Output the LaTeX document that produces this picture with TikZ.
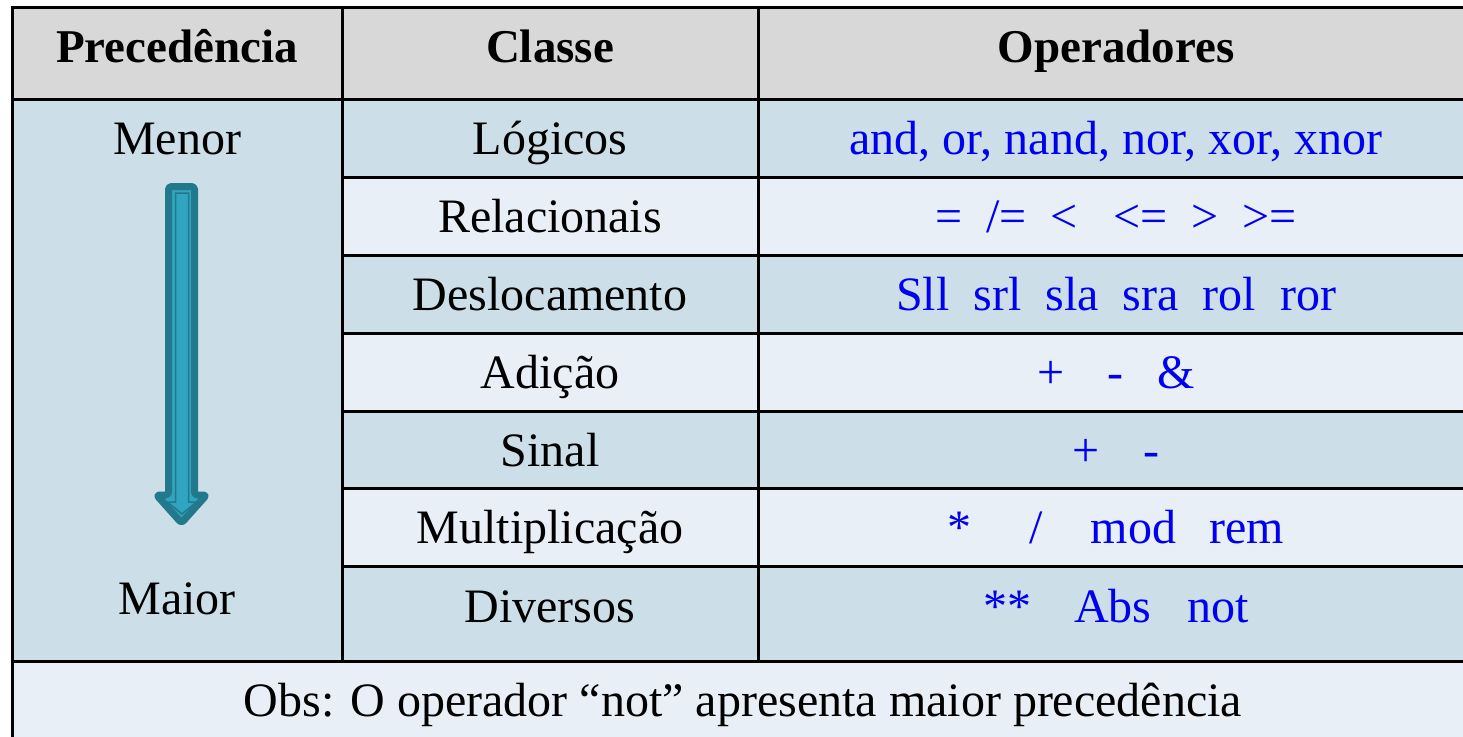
\documentclass[tikz,border=0pt]{standalone}
\usepackage{fontspec}
\setmainfont{Liberation Serif}
\definecolor{hdr}{HTML}{D8D8D8}
\definecolor{rowdark}{HTML}{CCDEE7}
\definecolor{rowlight}{HTML}{E8EFF6}
\definecolor{tealdark}{HTML}{22798B}
\definecolor{teallight}{HTML}{31A4C0}
\definecolor{opblue}{HTML}{0000F0}
\tikzset{
  cell/.style={anchor=base, inner sep=0pt, font=\fontsize{48}{52}\selectfont},
  hcell/.style={cell, font=\fontsize{47}{52}\selectfont\bfseries},
  opcell/.style={cell, text=opblue},
  grid/.style={line width=3pt, black},
}
\begin{document}
\begin{tikzpicture}[x=1pt,y=-1pt]
\useasboundingbox (0,0) rectangle (1463,736);
\clip (0,0) rectangle (1463,736);
\fill[white] (0,0) rectangle (1463,736);
% fills
\fill[hdr] (12,7) rectangle (1480,99);
\fill[rowdark] (12,99) rectangle (342,661);
\fill[rowdark] (342,99) rectangle (1480,177);
\fill[rowlight] (342,177) rectangle (1480,255);
\fill[rowdark] (342,255) rectangle (1480,333);
\fill[rowlight] (342,333) rectangle (1480,411);
\fill[rowdark] (342,411) rectangle (1480,488);
\fill[rowlight] (342,488) rectangle (1480,566);
\fill[rowdark] (342,566) rectangle (1480,661);
\fill[rowlight] (12,661) rectangle (1480,740);
% grid
\draw[grid] (12,7) -- (1480,7);
\draw[grid] (12,99) -- (1480,99);
\foreach \yy in {177,255,333,411,488,566} \draw[grid] (342,\yy) -- (1480,\yy);
\draw[grid] (12,661) -- (1480,661);
\draw[grid] (12,5.5) -- (12,740);
\draw[grid] (342,7) -- (342,661);
\draw[grid] (758,7) -- (758,661);
% arrow
\draw[line width=7pt, draw=tealdark, fill=teallight, rounded corners=3pt, line join=round]
  (168.5,186.5) -- (194.5,186.5) -- (194.5,495) -- (206.5,495) -- (181.5,523) -- (156.5,495) -- (168.5,495) -- cycle;
\draw[line width=1.5pt, draw=tealdark, line join=miter]
  (175.5,193) -- (188.5,193) -- (188.5,502) -- (196.5,502) -- (182,514) -- (167.5,502) -- (175.5,502) -- cycle;
% header
\node[hcell] (h1) at (177,62) {Precedência};
\node[hcell] (h2) at (550,62) {Classe};
\node[hcell] (h3) at (1116,62) {Operadores};
% precedence
\node[cell] (menor) at (177,154) {Menor};
\node[cell] (maior) at (177,614) {Maior};
% classes
\node[cell] (c1) at (550,154) {Lógicos};
\node[cell] (c2) at (550,232) {Relacionais};
\node[cell] (c3) at (550,310) {Deslocamento};
\node[cell] (c4) at (550,388) {Adição};
\node[cell] (c5) at (550,466) {Sinal};
\node[cell] (c6) at (550,543) {Multiplicação};
\node[cell] (c7) at (550,622) {Diversos};
% operators
\node[opcell] (o1) at (1116,154) {and, or, nand, nor, xor, xnor};
\node[opcell] (o2) at (1116,232) {=\hspace{0.5em}/=\hspace{0.5em}<\hspace{0.75em}<=\hspace{0.5em}>\hspace{0.5em}>=};
\node[opcell] (o3) at (1116,310) {Sll\ \ srl\ \ sla\ \ sra\ \ rol\ \ ror};
\node[opcell] (o4) at (1116,388) {+\hspace{0.9em}-\hspace{0.7em}\&};
\node[opcell] (o5) at (1116,466) {+\hspace{0.9em}-};
\node[opcell] (o6) at (1116,543) {*\hspace{1.2em}/\hspace{1.0em}mod\hspace{0.7em}rem};
\node[opcell] (o7) at (1116,622) {**\hspace{0.9em}Abs\hspace{0.75em}not};
% note
\node[cell] (obs) at (743,716) {Obs: O operador “not” apresenta maior precedência};
\end{tikzpicture}
\end{document}
